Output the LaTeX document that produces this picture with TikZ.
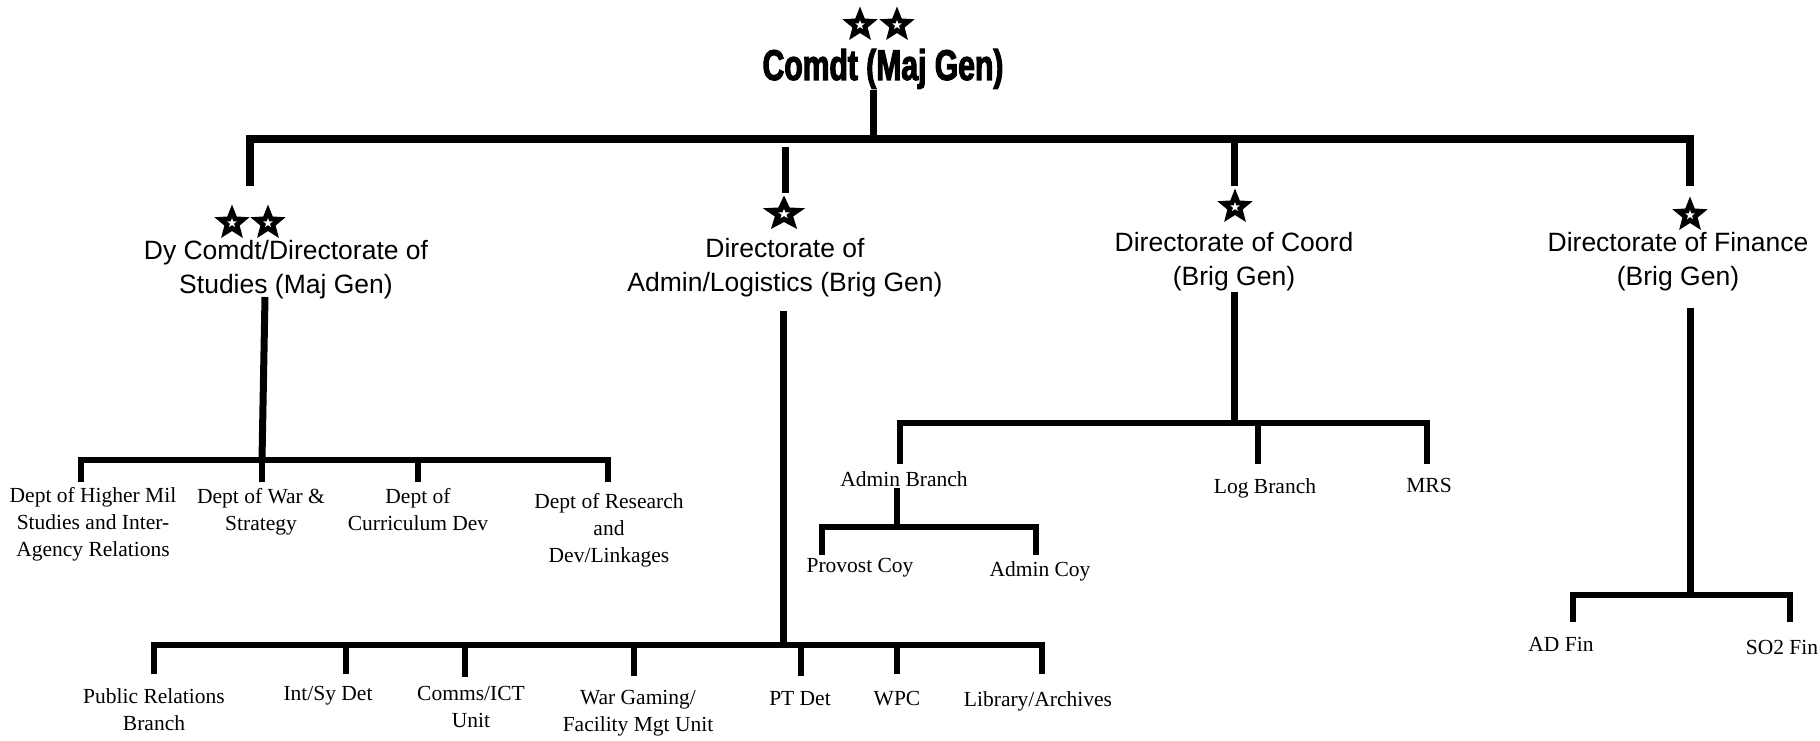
\documentclass[tikz,border=0pt]{standalone}
\usepackage{fontspec}
\setmainfont{Liberation Serif}
\newfontfamily\arialfont{Liberation Sans}
\newfontfamily\impactfont{Liberation Sans}[FakeStretch=0.70,BoldFeatures={FakeBold=2.5}]
\usetikzlibrary{shapes.geometric}

\tikzset{
  trunk/.style={line width=7pt, line join=miter},
  twig/.style={line width=6pt, line join=miter},
  dirbox/.style={font=\arialfont\fontsize{26.5}{34}\selectfont, align=center, inner sep=0pt},
  unitbox/.style={font=\fontsize{21.5}{27}\selectfont, align=center, inner sep=0pt},
  rank star/.pic={
    \node[star, star points=5, star point ratio=2.3, fill=black, inner sep=0pt, minimum size=37pt] (-out) {};
    \node[star, star points=5, star point ratio=2.4, fill=white, inner sep=0pt, minimum size=10pt] (-in) {};
  },
}

\begin{document}
\begin{tikzpicture}[x=1pt, y=-1pt]
        \useasboundingbox (0,0) rectangle (1820,741);

        % Comdt (top)
        \pic (comdt-s1) at (860,25) {rank star};
        \pic (comdt-s2) at (897,25) {rank star};
        \node[anchor=base, inner sep=0pt, font=\impactfont\bfseries\fontsize{43}{50}\selectfont] (comdt) at (883,80) {Comdt (Maj Gen)};

        % Directorates
        \pic (studies-s1) at (232,223) {rank star};
        \pic (studies-s2) at (268,223) {rank star};
        \node[dirbox] (studies) at (286,270) {Dy Comdt/Directorate of\\Studies (Maj Gen)};

        \pic[xscale=1.2, transform shape] (admin-s) at (784,214) {rank star};
        \node[dirbox] (admin) at (785,268) {Directorate of\\Admin/Logistics (Brig Gen)};

        \pic (coord-s) at (1235,207) {rank star};
        \node[dirbox] (coord) at (1234,262) {Directorate of Coord\\(Brig Gen)};

        \pic (finance-s) at (1690,215) {rank star};
        \node[dirbox] (finance) at (1678,262) {Directorate of Finance\\(Brig Gen)};

        % Depts under Studies
        \node[unitbox] (hms) at (93,524) {Dept of Higher Mil\\Studies and Inter-\\Agency Relations};
        \node[unitbox] (warstrat) at (261,512) {Dept of War \&\\Strategy};
        \node[unitbox] (curdev) at (418,510) {Dept of\\Curriculum Dev};
        \node[unitbox] (research) at (609,530) {Dept of Research\\and\\Dev/Linkages};

        % Units under Admin/Logistics
        \node[unitbox] (pr) at (154,710) {Public Relations\\Branch};
        \node[unitbox] (intsy) at (328,696) {Int/Sy Det};
        \node[unitbox] (comms) at (471,707) {Comms/ICT\\Unit};
        \node[unitbox] (wargame) at (638,713) {War Gaming/\\Facility Mgt Unit};
        \node[unitbox] (ptdet) at (800,699) {PT Det};
        \node[unitbox] (wpc) at (897,699) {WPC};
        \node[unitbox] (library) at (1038,701) {Library/Archives};

        % Branches under Coord
        \node[unitbox] (adminbr) at (904,479) {Admin Branch};
        \node[unitbox] (logbr) at (1265,488) {Log Branch};
        \node[unitbox] (mrs) at (1429,485) {MRS};
        \node[unitbox] (provost) at (860,568) {Provost Coy};
        \node[unitbox] (admincoy) at (1040,571) {Admin Coy};

        % Finance
        \node[unitbox] (adfin) at (1561,644) {AD Fin};
        \node[unitbox] (sofin) at (1782,647) {SO2 Fin};

        % Main bar
        \coordinate (comdt-foot) at (873,90);
        \coordinate (topbar) at (873,139);
        \coordinate (studies-top) at (250,186);
        \coordinate (admin-hang) at (785,147);
        \coordinate (admin-top) at (785,193);
        \coordinate (coord-top) at (1234,186);
        \coordinate (finance-top) at (1690,186);
        \draw[trunk] (comdt-foot) -- (topbar);
        \draw[line width=8pt, line join=miter] (studies-top) |- (topbar) -| (finance-top);
        \draw[trunk] (coord-top |- topbar) -- (coord-top);
        \draw[trunk] (admin-hang) -- (admin-top);

        % Studies branch
        \coordinate (studies-foot) at (265,297);
        \coordinate (studies-bar) at (262,460);
        \coordinate (hms-top) at (81,482);
        \coordinate (warstrat-top) at (262,482);
        \coordinate (curdev-top) at (418,482);
        \coordinate (research-top) at (608,482);
        \draw[trunk] (studies-foot) -- (studies-bar);
        \draw[twig] (hms-top) |- (studies-bar) -| (research-top);
        \draw[twig] (studies-bar) -- (warstrat-top);
        \draw[twig] (curdev-top |- studies-bar) -- (curdev-top);

        % Admin/Logistics branch
        \coordinate (admin-foot) at (783,311);
        \coordinate (admin-bar) at (783,645);
        \coordinate (pr-top) at (154,674);
        \coordinate (intsy-top) at (346,674);
        \coordinate (comms-top) at (465,677);
        \coordinate (wargame-top) at (634,676);
        \coordinate (ptdet-top) at (801,676);
        \coordinate (wpc-top) at (897,674);
        \coordinate (library-top) at (1042,674);
        \draw[trunk] (admin-foot) -- (admin-bar);
        \draw[twig] (pr-top) |- (admin-bar) -| (library-top);
        \foreach \u in {intsy,comms,wargame,ptdet,wpc}
          \draw[twig] (\u-top |- admin-bar) -- (\u-top);

        % Coord branch
        \coordinate (coord-foot) at (1234,292);
        \coordinate (coord-bar) at (1234,423);
        \coordinate (adminbr-top) at (900,464);
        \coordinate (logbr-top) at (1258,464);
        \coordinate (mrs-top) at (1427,464);
        \draw[trunk] (coord-foot) -- (coord-bar);
        \draw[twig] (adminbr-top) |- (coord-bar) -| (mrs-top);
        \draw[twig] (logbr-top |- coord-bar) -- (logbr-top);

        \coordinate (adminbr-foot) at (897,488);
        \coordinate (adminbr-bar) at (897,527);
        \coordinate (provost-top) at (822,555);
        \coordinate (admincoy-top) at (1036,555);
        \draw[twig] (adminbr-foot) -- (adminbr-bar);
        \draw[twig] (provost-top) |- (adminbr-bar) -| (admincoy-top);

        % Finance branch
        \coordinate (finance-foot) at (1690,308);
        \coordinate (finance-bar) at (1690,595);
        \coordinate (adfin-top) at (1573,622);
        \coordinate (sofin-top) at (1790,622);
        \draw[trunk] (finance-foot) -- (finance-bar);
        \draw[twig] (adfin-top) |- (finance-bar) -| (sofin-top);
\end{tikzpicture}
\end{document}
